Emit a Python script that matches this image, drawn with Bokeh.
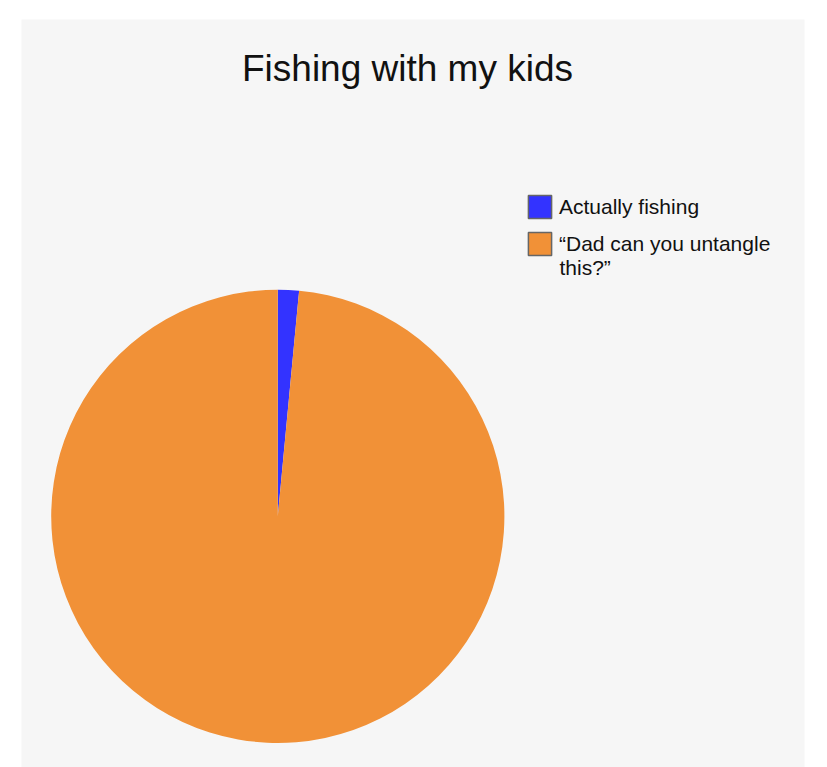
import numpy as np
from bokeh.plotting import figure
from bokeh.models import ColumnDataSource, Legend, LegendItem, Label, Range1d
from bokeh.embed import file_html
from bokeh.resources import INLINE

title_text = "Fishing with my kids"
categories = ["Actually fishing", "\u201cDad can you untangle this?\u201d"]
values = [1.5, 98.5]
colors = ["#3333ff", "#f19137"]
WRAP_AT = 22  # legend label wrap width (characters)


def wrap(s, n):
    words, lines, cur = s.split(" "), [], ""
    for w in words:
        if cur and len(cur) + 1 + len(w) > n:
            lines.append(cur)
            cur = w
        else:
            cur = (cur + " " + w).strip()
    lines.append(cur)
    return lines


FRAME_W, FRAME_H = 783, 748
p = figure(width=818, height=767, output_backend="svg", toolbar_location=None,
           x_range=Range1d(0, FRAME_W), y_range=Range1d(0, FRAME_H),
           min_border_left=21, min_border_right=14, min_border_top=19, min_border_bottom=0)
p.axis.visible = False
p.grid.visible = False
p.outline_line_color = None
p.background_fill_color = "#f6f6f6"
p.border_fill_color = "white"

vals = np.array(values, dtype=float)
cum = np.cumsum(vals) / vals.sum() * 2 * np.pi
prev = np.concatenate([[0.0], cum[:-1]])
nan = [np.nan] * len(categories)
src = ColumnDataSource(dict(cat=categories, color=colors,
                            start=np.pi / 2 - prev, end=np.pi / 2 - cum, nan=nan))
p.wedge(x=256.3, y=FRAME_H - 496.8, radius=226.6, start_angle="start", end_angle="end",
        direction="clock", fill_color="color", line_color=None, source=src)

# legend swatches (no visible marks in the plot area)
sw = p.quad(left="nan", right="nan", top="nan", bottom="nan", fill_color="color",
            line_color="#666666", line_width=1.5, source=src)
wrapped = [wrap(c, WRAP_AT) for c in categories]
items = [LegendItem(label=lines[0], renderers=[sw], index=i) for i, lines in enumerate(wrapped)]

LEG_X, LEG_TOP, GLYPH, SPACING, STANDOFF, LINE_H = 504, 173, 29, 8, 5, 23.3
n_items = len(items)
leg_h = n_items * GLYPH + (n_items - 1) * SPACING
legend = Legend(items=items, location=(LEG_X, FRAME_H - LEG_TOP - leg_h), padding=0,
                spacing=SPACING, glyph_width=GLYPH, glyph_height=GLYPH,
                label_standoff=STANDOFF,
                label_text_font="Liberation Sans", label_text_font_size="21px",
                label_text_color="#111111",
                border_line_color=None, background_fill_alpha=0)
p.add_layout(legend, "center")

# continuation lines of wrapped legend labels
for i, lines in enumerate(wrapped):
    center = LEG_TOP + i * (GLYPH + SPACING) + GLYPH / 2
    for j, extra in enumerate(lines[1:], start=1):
        p.add_layout(Label(x=LEG_X + GLYPH + STANDOFF, y=FRAME_H - center - j * LINE_H,
                           text=extra, text_align="left", text_baseline="middle",
                           text_font="Liberation Sans", text_font_size="21px",
                           text_color="#111111"))

p.add_layout(Label(x=386, y=FRAME_H - 49, text=title_text, text_align="center",
                   text_baseline="alphabetic", text_font="Liberation Sans",
                   text_font_size="37px", text_color="#111111"))

open("out.html", "w").write(file_html(p, INLINE))
